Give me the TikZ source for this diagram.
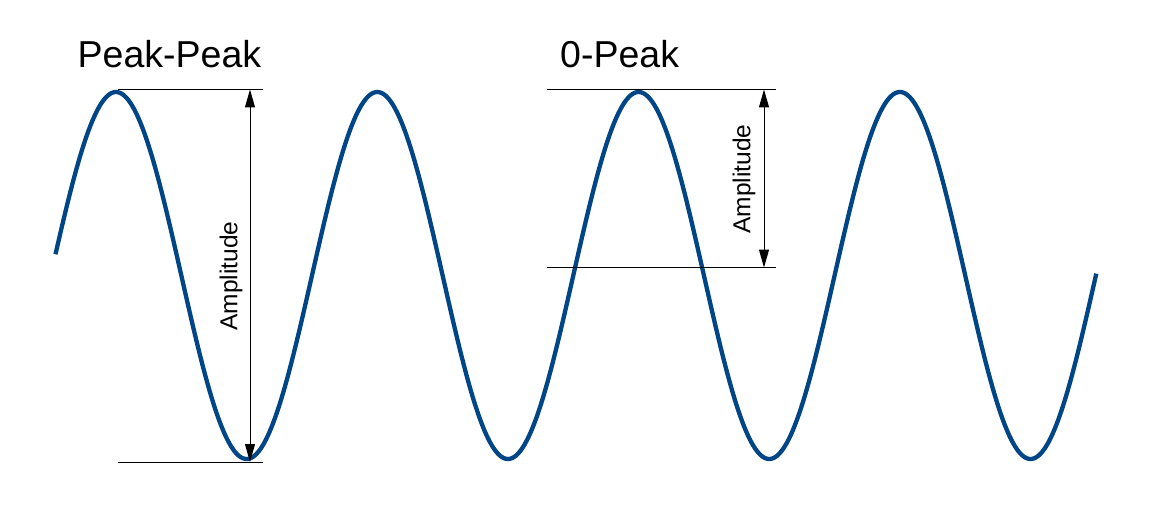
\documentclass[tikz,border=0pt]{standalone}
\usepackage{fontspec}
\setmainfont{Liberation Sans}
\usetikzlibrary{arrows.meta}
\definecolor{wave}{HTML}{004586}
\tikzset{
  wavestyle/.style={draw=wave, line width=4.3pt, line join=round},
  refline/.style={draw=black, line width=1pt},
  dimarrow/.style={draw=black, line width=1pt, {Triangle[length=18pt,width=10pt]}-{Triangle[length=18pt,width=10pt]}},
  title/.style={font=\fontsize{37.5}{42}\selectfont, inner sep=0pt, anchor=base west},
  amp/.style={font=\fontsize{24.5}{28}\selectfont, inner sep=0pt, rotate=90}
}
\begin{document}
\begin{tikzpicture}[x=1pt, y=-1pt]
\useasboundingbox (0,0) rectangle (1165,524);
\fill[white] (0,0) rectangle (1165,524);
% wave
\draw[wavestyle] plot[domain=55.5:1096.3, samples=600] (\x, {275.5-183.5*cos((\x-116)/261.3*360)});
% titles
\node[title] (pp) at (77.5,67.5) {Peak-Peak};
\node[title] (zp) at (560,67.5) {0-Peak};
% Peak-Peak reference lines
\coordinate (ppTL) at (118,89.5);
\coordinate (ppTR) at (263,89.5);
\coordinate (ppBL) at (118,462);
\coordinate (ppBR) at (263,462);
\coordinate (ppAT) at (250,89.5);
\coordinate (ppAB) at (250,462);
\draw[refline] (ppTL) -- (ppTR);
\draw[refline] (ppBL) -- (ppBR);
\draw[dimarrow] (ppAT) -- (ppAB);
\node[amp] (ampA) at (231,276) {Amplitude};
% 0-Peak reference lines
\coordinate (zpTL) at (547,89.5);
\coordinate (zpTR) at (776,89.5);
\coordinate (zpBL) at (547,267.5);
\coordinate (zpBR) at (776,267.5);
\coordinate (zpAT) at (764,89.5);
\coordinate (zpAB) at (764,267.5);
\draw[refline] (zpTL) -- (zpTR);
\draw[refline] (zpBL) -- (zpBR);
\draw[dimarrow] (zpAT) -- (zpAB);
\node[amp] (ampB) at (744,179) {Amplitude};
\end{tikzpicture}
\end{document}
